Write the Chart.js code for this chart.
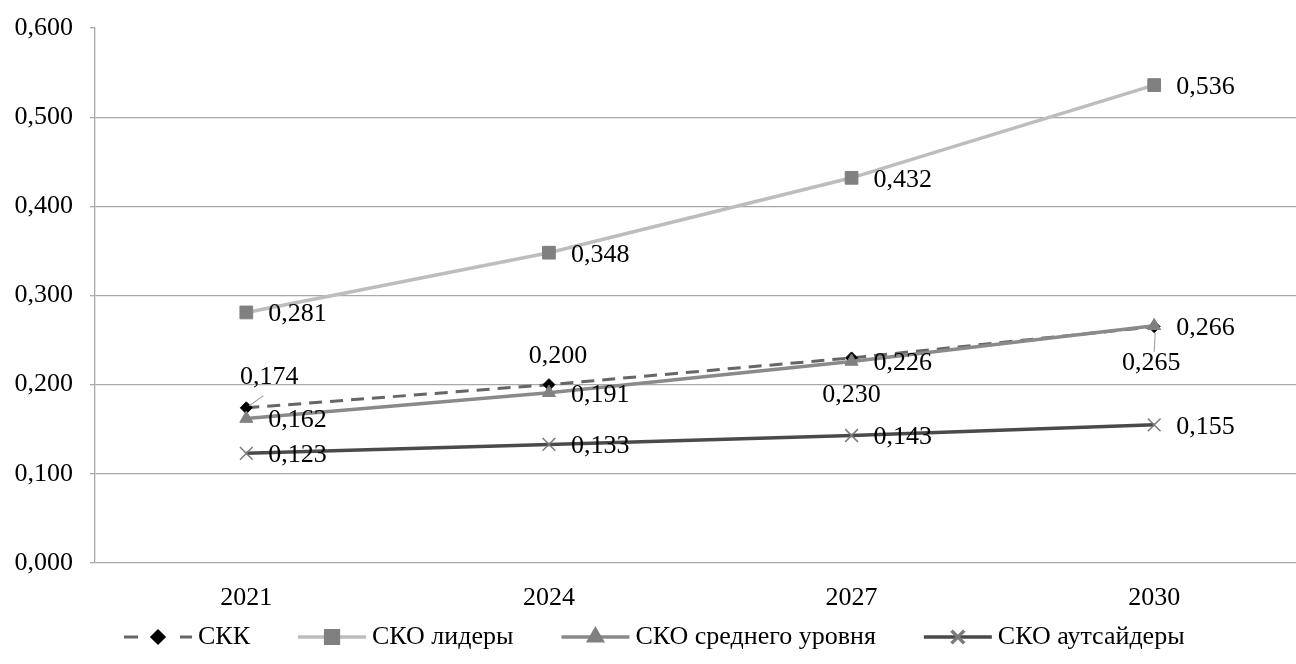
<!DOCTYPE html>
<html>
<head>
<meta charset="utf-8">
<script src="https://cdn.jsdelivr.net/npm/chart.js@4.4.1/dist/chart.umd.min.js"></script>
<style>
  html, body { margin: 0; padding: 0; background: #fff; overflow: hidden; }
  #wrap { width: 1316px; height: 664px; }
</style>
</head>
<body>
<div id="wrap"><canvas id="chart" width="1316" height="664"></canvas></div>
<script>
// Years on the category axis
const years = ['2021', '2024', '2027', '2030'];

// Series values
const skk          = [0.174, 0.200, 0.230, 0.265];
const skoLeaders   = [0.281, 0.348, 0.432, 0.536];
const skoMiddle    = [0.162, 0.191, 0.226, 0.266];
const skoOutsiders = [0.123, 0.133, 0.143, 0.155];

// Series names
const seriesNames = ['СКК', 'СКО лидеры', 'СКО среднего уровня', 'СКО аутсайдеры'];

// Value axis range
const yMin = 0, yMax = 0.6, yStep = 0.1;

const FONT_FAMILY = '"Liberation Serif", "Times New Roman", serif';
const FONT_SIZE = 26;
const FONT = FONT_SIZE + 'px ' + FONT_FAMILY;
const GRID = '#a9a9a9';

const fmt = v => v.toFixed(3).replace('.', ',');

// Where each value label sits relative to its point
const R = { align: 'left', dx: 22, dy: 2 };
const skkLabelPos = [
  { align: 'center', dx: 23, dy: -31, leader: [17, -12, 3, -2] },
  { align: 'center', dx: 9,  dy: -28 },
  { align: 'center', dx: 0,  dy: 37 },
  { align: 'center', dx: -3, dy: 36, leader: [0, 25, 1, 6] }
];

const datasets = [
  {
    label: seriesNames[0], data: skk, order: 4,
    borderColor: '#666666', borderWidth: 3, borderDash: [13, 8],
    pointStyle: 'rectRot', pointRadius: 6,
    pointBackgroundColor: '#000', pointBorderColor: '#000', pointBorderWidth: 1,
    labelPos: skkLabelPos, legendDash: [14, 42]
  },
  {
    label: seriesNames[1], data: skoLeaders, order: 3,
    borderColor: '#bdbdbd', borderWidth: 3.5,
    pointStyle: 'rect', pointRadius: 9,
    pointBackgroundColor: '#808080', pointBorderColor: '#808080', pointBorderWidth: 1,
    labelPos: [R, R, R, R]
  },
  {
    label: seriesNames[2], data: skoMiddle, order: 2,
    borderColor: '#8a8a8a', borderWidth: 3.5,
    pointStyle: 'triangle', pointRadius: 7.5,
    pointBackgroundColor: '#808080', pointBorderColor: '#808080', pointBorderWidth: 1,
    labelPos: [R, R, R, R]
  },
  {
    label: seriesNames[3], data: skoOutsiders, order: 1,
    borderColor: '#4a4a4a', borderWidth: 3.5,
    pointStyle: 'crossRot', pointRadius: 9,
    pointBackgroundColor: '#7a7a7a', pointBorderColor: '#7a7a7a', pointBorderWidth: 1.5,
    labelPos: [R, R, R, R]
  }
];

// Value labels next to each point
const valueLabels = {
  id: 'valueLabels',
  afterDatasetsDraw(chart) {
    const ctx = chart.ctx;
    ctx.save();
    ctx.font = FONT;
    ctx.textBaseline = 'middle';
    chart.data.datasets.forEach((ds, i) => {
      const meta = chart.getDatasetMeta(i);
      meta.data.forEach((pt, j) => {
        const p = ds.labelPos[j];
        if (p.leader) {
          const [x1, y1, x2, y2] = p.leader;
          ctx.strokeStyle = GRID;
          ctx.lineWidth = 1.2;
          ctx.setLineDash([]);
          ctx.beginPath();
          ctx.moveTo(pt.x + x1, pt.y + y1);
          ctx.lineTo(pt.x + x2, pt.y + y2);
          ctx.stroke();
        }
        ctx.fillStyle = '#000';
        ctx.textAlign = p.align;
        ctx.fillText(fmt(ds.data[j]), pt.x + p.dx, pt.y + p.dy);
      });
    });
    ctx.restore();
  }
};

// Legend row under the axis: line sample with marker, then the name
const LEGEND = { x: 124, y: 637, lineLen: 68, textGap: 6, itemGap: 48 };
const seriesLegend = {
  id: 'seriesLegend',
  afterDraw(chart) {
    const ctx = chart.ctx;
    ctx.save();
    ctx.font = FONT;
    ctx.textBaseline = 'middle';
    ctx.textAlign = 'left';
    let x = LEGEND.x;
    const y = LEGEND.y;
    chart.data.datasets.forEach(ds => {
      ctx.strokeStyle = ds.borderColor;
      ctx.lineWidth = ds.borderWidth;
      ctx.setLineDash(ds.legendDash || []);
      ctx.beginPath();
      ctx.moveTo(x, y);
      ctx.lineTo(x + LEGEND.lineLen, y);
      ctx.stroke();
      ctx.setLineDash([]);
      ctx.fillStyle = ds.pointBackgroundColor;
      ctx.strokeStyle = ds.pointBorderColor;
      Chart.helpers.drawPoint(ctx, {
        pointStyle: ds.pointStyle, rotation: 0,
        radius: ds.pointRadius, borderWidth: ds.pointBorderWidth
      }, x + LEGEND.lineLen / 2, y);
      const tx = x + LEGEND.lineLen + LEGEND.textGap;
      ctx.fillStyle = '#000';
      ctx.fillText(ds.label, tx, y);
      x = tx + ctx.measureText(ds.label).width + LEGEND.itemGap;
    });
    ctx.restore();
  }
};

new Chart(document.getElementById('chart'), {
  type: 'line',
  data: { labels: years, datasets },
  plugins: [valueLabels, seriesLegend],
  options: {
    responsive: false,
    animation: false,
    devicePixelRatio: 1,
    layout: { padding: { top: 28, bottom: 53, left: 0, right: 0 } },
    elements: { line: { tension: 0 } },
    plugins: { legend: { display: false }, tooltip: { enabled: false } },
    scales: {
      x: {
        offset: true,
        grid: { display: false },
        border: { display: false },
        ticks: { color: '#000', font: { family: FONT_FAMILY, size: FONT_SIZE }, padding: 12 },
        afterFit(scale) { scale.height = 48; }
      },
      y: {
        min: yMin, max: yMax,
        grid: {
          color: c => (c.tick && Math.abs(c.tick.value - yMax) < 1e-9) ? 'rgba(0,0,0,0)' : GRID,
          tickColor: GRID,
          tickLength: 5,
          lineWidth: 1.3
        },
        border: { display: true, color: GRID, width: 1.3 },
        ticks: {
          stepSize: yStep,
          color: '#000',
          font: { family: FONT_FAMILY, size: FONT_SIZE, lineHeight: 0.8 },
          padding: 17,
          callback: v => fmt(v)
        },
        afterFit(scale) { scale.width = 95; }
      }
    }
  }
});
</script>
</body>
</html>
